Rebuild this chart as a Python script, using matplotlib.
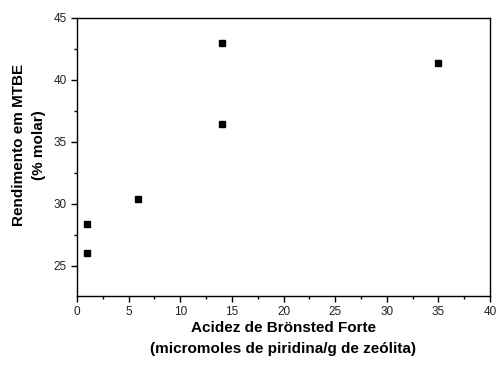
import matplotlib
matplotlib.use("Agg")
import matplotlib.pyplot as plt
from matplotlib.ticker import MultipleLocator

plt.rcParams['font.family'] = ['Liberation Sans', 'DejaVu Sans']

# data
acidez = [1.0, 1.0, 5.9, 14.0, 14.0, 35.0]
rendimento = [28.4, 26.0, 30.4, 36.4, 43.0, 41.4]

fig = plt.figure(figsize=(4.97, 3.67), dpi=100)
ax = fig.add_axes([77/497, 1 - 296/367, (490-77)/497, (296-18)/367])

ax.plot(acidez, rendimento, 's', color='black', markersize=5, linestyle='none')

ax.set_xlim(0, 40)
ax.set_ylim(22.55, 45)
ax.xaxis.set_major_locator(MultipleLocator(5))
ax.xaxis.set_minor_locator(MultipleLocator(2.5))
ax.yaxis.set_major_locator(MultipleLocator(5))
ax.yaxis.set_minor_locator(MultipleLocator(2.5))
ax.tick_params(which='both', direction='out', labelsize=8.5, width=1, color='black',
               labelcolor='#222222')
ax.tick_params(which='major', length=4)
ax.tick_params(which='minor', length=2.5)
for s in ax.spines.values():
    s.set_linewidth(1)

ax.set_xlabel('Acidez de Brönsted Forte\n(micromoles de piridina/g de zeólita)',
              fontsize=11, fontweight='bold', linespacing=1.7, labelpad=1.5)
ax.set_ylabel('Rendimento em MTBE\n(% molar)', fontsize=11, fontweight='bold',
              linespacing=1.55, labelpad=5.5)
ax.yaxis.label.set_y(0.543)

fig.savefig('out.png', dpi=100)
